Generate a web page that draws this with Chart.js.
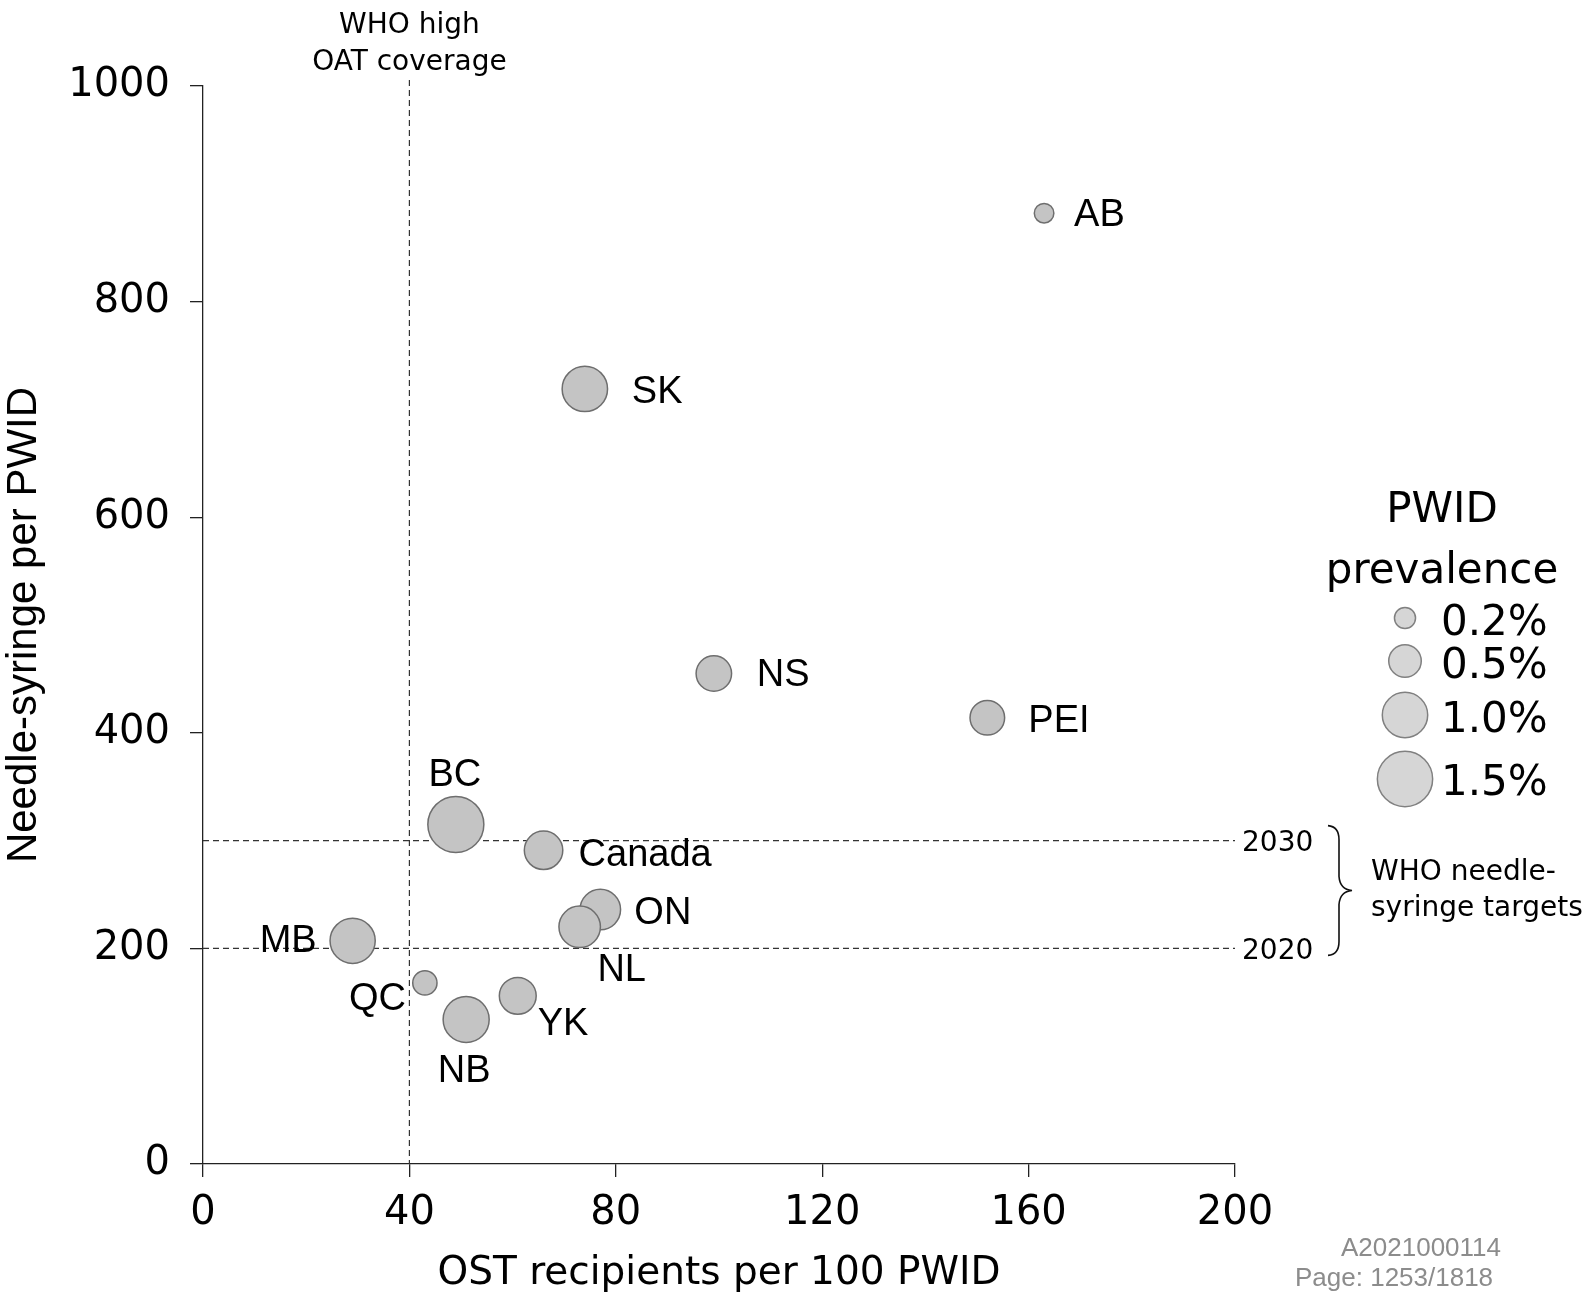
<!DOCTYPE html>
<html><head><meta charset="utf-8">
<script src="https://cdn.jsdelivr.net/npm/chart.js@4.4.0/dist/chart.umd.min.js"></script>
<style>html,body{margin:0;padding:0;background:#fff;}#wrap{width:1585px;height:1294px;position:relative;}</style>
</head><body><div id="wrap"><canvas id="c" width="1585" height="1294"></canvas></div>
<script>
// ---- data ----
const regions      = ['AB', 'SK', 'NS', 'PEI', 'BC', 'Canada', 'ON', 'NL', 'MB', 'QC', 'YK', 'NB'];
const ostPer100    = [163, 74, 99, 152, 49, 66, 77, 73, 29, 43, 61, 51];
const nspPerPwid   = [882, 719, 455, 414, 315, 291, 236, 220, 207, 168, 156, 134];
const prevalence   = [0.17, 1.0, 0.6, 0.57, 1.54, 0.71, 0.79, 0.83, 0.99, 0.27, 0.65, 1.03];
const legendPrevalence = [0.2, 0.5, 1.0, 1.5];
const legendLabels = ['0.2%', '0.5%', '1.0%', '1.5%'];
const xTicks = [0, 40, 80, 120, 160, 200];
const yTicks = [0, 200, 400, 600, 800, 1000];
const targetYears  = ['2020', '2030'];
const targetValues = [200, 300];
const oatThreshold = 40;

// ---- style ----
const FONT_MAIN = 'DejaVu Sans';
const FONT_LABEL = 'Liberation Sans';
const radiusFor = p => 0.7 + 22 * Math.sqrt(p);
const labelPlacement = {
  AB:{dx:30,dy:-1,align:'left'}, SK:{dx:47,dy:0,align:'left'}, NS:{dx:43,dy:-1,align:'left'},
  PEI:{dx:41,dy:1,align:'left'}, BC:{dx:-1,dy:-52,align:'center'}, Canada:{dx:35,dy:2,align:'left'},
  ON:{dx:34,dy:1,align:'left'}, NL:{dx:42,dy:41,align:'center'}, MB:{dx:-36,dy:-2,align:'right'},
  QC:{dx:-19,dy:13,align:'right'}, YK:{dx:20,dy:26,align:'left'}, NB:{dx:-2,dy:49,align:'center'}
};

const refLines = {
  id:'refLines',
  beforeDatasetsDraw(chart){
    const {ctx, chartArea:a, scales:{x,y}} = chart;
    ctx.save();
    ctx.strokeStyle = '#333'; ctx.lineWidth = 1.2; ctx.setLineDash([6,4]);
    const xp = x.getPixelForValue(oatThreshold);
    ctx.beginPath(); ctx.moveTo(xp, a.top - 6); ctx.lineTo(xp, a.bottom); ctx.stroke();
    targetValues.forEach(v => {
      const yp = y.getPixelForValue(v);
      ctx.beginPath(); ctx.moveTo(a.left, yp); ctx.lineTo(a.right, yp); ctx.stroke();
    });
    ctx.restore();
  },
  afterDraw(chart){
    const {ctx, chartArea:a, scales:{x,y}} = chart;
    const meta = chart.getDatasetMeta(0);
    ctx.save();
    // point labels
    ctx.fillStyle = '#000';
    ctx.font = '38px "' + FONT_LABEL + '"';
    ctx.textBaseline = 'alphabetic';
    meta.data.forEach((el, i) => {
      const pl = labelPlacement[regions[i]];
      ctx.textAlign = pl.align;
      ctx.fillText(regions[i], el.x + pl.dx, el.y + pl.dy + 0.358*38);
    });
    // WHO OAT label
    const xp = x.getPixelForValue(oatThreshold);
    ctx.font = '28px "' + FONT_MAIN + '"';
    ctx.textAlign = 'center';
    ctx.fillText('WHO high', xp, 33);
    ctx.fillText('OAT coverage', xp, 70);
    // target labels
    ctx.textAlign = 'left';
    targetValues.forEach((v, i) => {
      const yp = y.getPixelForValue(v);
      ctx.fillText(targetYears[i], a.right + 7, yp + 0.3645*28);
    });
    // brace
    const yTop = y.getPixelForValue(targetValues[1]) - 15;
    const yBot = y.getPixelForValue(targetValues[0]) + 7;
    const ym = (yTop + yBot) / 2;
    const bx = 1328;
    ctx.strokeStyle = '#111'; ctx.lineWidth = 1.6; ctx.setLineDash([]);
    ctx.beginPath();
    ctx.moveTo(bx, yTop);
    ctx.quadraticCurveTo(bx + 11, yTop + 1, bx + 11, yTop + 14);
    ctx.lineTo(bx + 11, ym - 14);
    ctx.quadraticCurveTo(bx + 12, ym - 1, bx + 24, ym);
    ctx.quadraticCurveTo(bx + 12, ym + 1, bx + 11, ym + 14);
    ctx.lineTo(bx + 11, yBot - 14);
    ctx.quadraticCurveTo(bx + 11, yBot - 1, bx, yBot);
    ctx.stroke();
    ctx.fillText('WHO needle-', 1371, 880);
    ctx.fillText('syringe targets', 1371, 916);
    // legend
    ctx.font = '42px "' + FONT_MAIN + '"';
    ctx.textAlign = 'center';
    ctx.fillText('PWID', 1442, 522);
    ctx.fillText('prevalence', 1442, 583);
    const legY = [618, 661, 715, 779];
    const legBase = [635, 678, 732, 795];
    legendPrevalence.forEach((p, i) => {
      ctx.beginPath();
      ctx.arc(1405, legY[i], radiusFor(p), 0, Math.PI*2);
      ctx.fillStyle = '#d6d6d6'; ctx.fill();
      ctx.strokeStyle = '#808080'; ctx.lineWidth = 1.5; ctx.stroke();
      ctx.fillStyle = '#000'; ctx.textAlign = 'left';
      ctx.fillText(legendLabels[i], 1441, legBase[i]);
    });
    // axis titles
    ctx.fillStyle = '#000';
    ctx.font = '39px "' + FONT_MAIN + '"';
    ctx.textAlign = 'center';
    ctx.fillText('OST recipients per 100 PWID', (a.left + a.right)/2, 1284);
    ctx.save();
    ctx.translate(24, (a.top + a.bottom)/2);
    ctx.rotate(-Math.PI/2);
    ctx.font = '42px "' + FONT_LABEL + '"';
    ctx.textBaseline = 'middle';
    ctx.fillText('Needle-syringe per PWID', 0, 0);
    ctx.restore();
    // watermark
    ctx.fillStyle = '#8c8c8c';
    ctx.font = '26px "' + FONT_LABEL + '"';
    ctx.textAlign = 'left';
    ctx.fillText('A2021000114', 1341, 1256);
    ctx.fillText('Page: 1253/1818', 1295, 1286);
    ctx.restore();
  }
};

new Chart(document.getElementById('c'), {
  type: 'bubble',
  data: { datasets: [{
    data: regions.map((r, i) => ({ x: ostPer100[i], y: nspPerPwid[i], r: radiusFor(prevalence[i]) })),
    backgroundColor: '#c4c4c4', borderColor: '#6e6e6e', borderWidth: 1.5
  }]},
  options: {
    responsive: false, animation: false, events: [],
    layout: { padding: { top: 86, right: 350, left: 0, bottom: 0 } },
    plugins: { legend: { display: false }, tooltip: { enabled: false } },
    scales: {
      x: { type: 'linear', min: 0, max: 200,
        afterBuildTicks: s => { s.ticks = xTicks.map(v => ({ value: v })); },
        afterFit: s => { s.height = 130; },
        grid: { drawOnChartArea: false, tickLength: 13, color: '#222', lineWidth: 1.3 },
        border: { display: true, color: '#222', width: 1.3 },
        ticks: { font: { family: FONT_MAIN, size: 40 }, color: '#000', padding: 13, maxRotation: 0, autoSkip: false,
          callback: v => String(v) }
      },
      y: { type: 'linear', min: 0, max: 1000,
        afterBuildTicks: s => { s.ticks = yTicks.map(v => ({ value: v })); },
        afterFit: s => { s.width = 203; },
        grid: { drawOnChartArea: false, tickLength: 13, color: '#222', lineWidth: 1.3 },
        border: { display: true, color: '#222', width: 1.3 },
        ticks: { font: { family: FONT_MAIN, size: 40 }, color: '#000', padding: 20, autoSkip: false,
          callback: v => String(v) }
      }
    }
  },
  plugins: [refLines]
});
</script></body></html>
